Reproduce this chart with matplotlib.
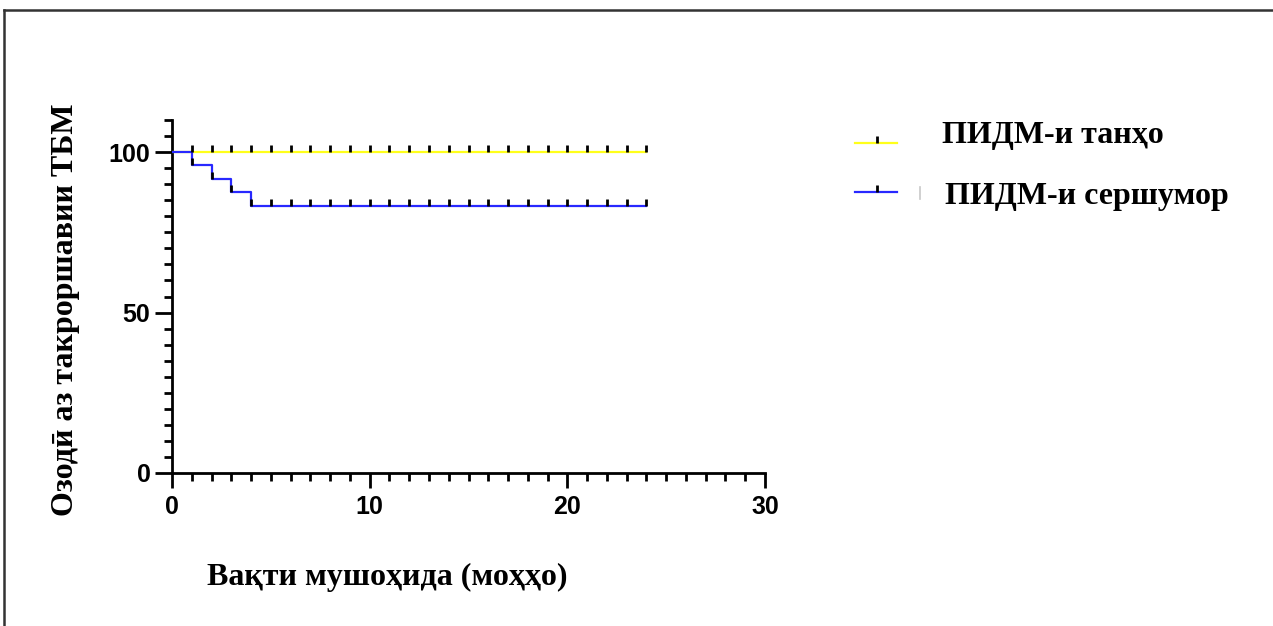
import matplotlib
matplotlib.use("Agg")
import matplotlib.pyplot as plt
from matplotlib.lines import Line2D
from matplotlib.ticker import MultipleLocator

# ---- data ----
single_times = [0, 24]
single_surv = [100, 100]
multi_times = [0, 1, 2, 3, 4, 24]
multi_surv = [100, 95.83, 91.67, 87.5, 83.33, 83.33]
censor_times = [1, 2, 3, 4, 5, 6, 7, 8, 9, 10, 11, 12,
                13, 14, 15, 16, 17, 18, 19, 20, 21, 22, 23, 24]
single_censor = [100] * 24
multi_censor = [95.83, 91.67, 87.5, 83.33, 83.33, 83.33, 83.33, 83.33,
                83.33, 83.33, 83.33, 83.33, 83.33, 83.33, 83.33, 83.33,
                83.33, 83.33, 83.33, 83.33, 83.33, 83.33, 83.33, 83.33]
series_labels = ["ПИДМ-и танҳо", "ПИДМ-и сершумор"]
series_colors = ["#ffff1a", "#2828ff"]
x_label = "Вақти мушоҳида (моҳҳо)"
y_label = "Озодӣ аз такроршавии ТБМ"
x_ticks = [0, 10, 20, 30]
y_ticks = [0, 50, 100]

W, H = 1273, 626
fig = plt.figure(figsize=(W / 100, H / 100), dpi=100)
serif = ["Liberation Serif", "DejaVu Serif"]
sans = ["Liberation Sans", "DejaVu Sans"]

def fx(px):
    return px / W

def fy(py):
    return 1 - py / H

ax = fig.add_axes([fx(172), fy(473), fx(765) - fx(172), fy(120) - fy(473)])
ax.set_xlim(0, 30)
ax.set_ylim(0, 110)
for s in ["top", "right"]:
    ax.spines[s].set_visible(False)
for s in ["left", "bottom"]:
    ax.spines[s].set_linewidth(2.0)
ax.patch.set_alpha(0)

tick_mark = [(0, 0), (0, 1)]
for t, s, ct, cs, col in [
    (single_times, single_surv, censor_times, single_censor, series_colors[0]),
    (multi_times, multi_surv, censor_times, multi_censor, series_colors[1]),
]:
    ax.plot(t, s, drawstyle="steps-post", color=col, lw=1.6, zorder=3)
    ax.plot(ct, cs, ls="none", marker=tick_mark, ms=10, mew=2.0,
            mec="black", zorder=4, clip_on=False)

ax.set_xticks(x_ticks)
ax.set_yticks(y_ticks)
ax.xaxis.set_minor_locator(MultipleLocator(1))
ax.yaxis.set_minor_locator(MultipleLocator(5))
ax.tick_params(axis="x", which="major", length=11, width=2.0, pad=5)
ax.tick_params(axis="x", which="minor", length=6, width=2.0)
ax.tick_params(axis="y", which="major", length=12.5, width=2.0, pad=3)
ax.tick_params(axis="y", which="minor", length=5.5, width=2.0)
for lab in ax.get_xticklabels() + ax.get_yticklabels():
    lab.set_fontfamily(sans)
    lab.set_fontweight("bold")
    lab.set_fontsize(18)

fig.text(fx(387), fy(577), x_label, ha="center", va="center",
         fontsize=23, fontweight="bold", family=serif)
fig.text(fx(66), fy(310), y_label, ha="center", va="center", rotation=90,
         fontsize=23, fontweight="bold", family=serif)

# legend (manual)
rows = [(143, 136, 942), (192, 196, 945)]
for (ly, ty, tx), col, lab in zip(rows, series_colors, series_labels):
    fig.add_artist(Line2D([fx(855), fx(897)], [fy(ly), fy(ly)], color=col,
                          lw=1.6, transform=fig.transFigure))
    fig.add_artist(Line2D([fx(877)], [fy(ly)], ls="none", marker=tick_mark,
                          ms=10, mew=2.0, mec="black",
                          transform=fig.transFigure))
    fig.text(fx(tx), fy(ty), lab, ha="left", va="center", fontsize=23,
             fontweight="bold", family=serif)
fig.add_artist(Line2D([fx(920), fx(920)], [fy(187), fy(199)], color="#c8c8c8",
                      lw=1.2, transform=fig.transFigure))

# figure frame (top and left only)
fig.add_artist(Line2D([fx(4), 1.0], [fy(9.5), fy(9.5)], color="#333333",
                      lw=1.8, transform=fig.transFigure))
fig.add_artist(Line2D([fx(4), fx(4)], [fy(9.5), 0.0], color="#333333",
                      lw=1.8, transform=fig.transFigure))

fig.savefig("out.png", dpi=100)
